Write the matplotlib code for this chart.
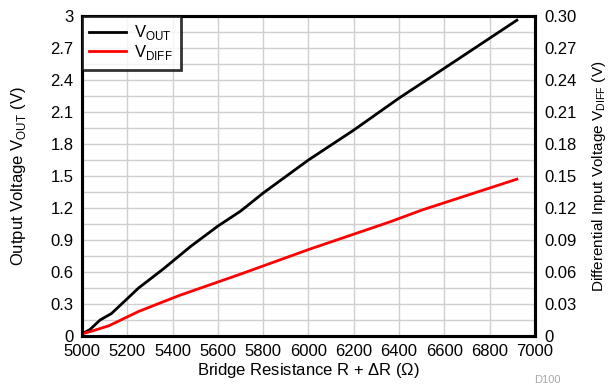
import matplotlib
matplotlib.use('Agg')
import matplotlib.pyplot as plt
import numpy as np

plt.rcParams['font.family'] = ['Liberation Sans', 'DejaVu Sans']
plt.rcParams['mathtext.fontset'] = 'custom'
plt.rcParams['mathtext.rm'] = 'Liberation Sans'

# bridge resistance (ohm) and output voltage (V)
r_out = [5000, 5035, 5080, 5130, 5200, 5250, 5360, 5480, 5600, 5700, 5800,
         6000, 6200, 6400, 6600, 6920]
v_out = [0.02, 0.06, 0.15, 0.21, 0.35, 0.45, 0.63, 0.84, 1.03, 1.17, 1.34,
         1.65, 1.93, 2.23, 2.51, 2.96]

# differential input voltage (V)
r_diff = [5000, 5050, 5120, 5250, 5430, 5700, 6000, 6360, 6500, 6920]
v_diff = [0.002, 0.005, 0.0097, 0.023, 0.038, 0.058, 0.081, 0.107, 0.118, 0.147]

x_ticks = list(range(5000, 7001, 200))
left_ticks = [0, 0.3, 0.6, 0.9, 1.2, 1.5, 1.8, 2.1, 2.4, 2.7, 3]
left_labels = ['0', '0.3', '0.6', '0.9', '1.2', '1.5', '1.8', '2.1', '2.4', '2.7', '3']
right_ticks = [0, 0.03, 0.06, 0.09, 0.12, 0.15, 0.18, 0.21, 0.24, 0.27, 0.30]
right_labels = ['0', '0.03', '0.06', '0.09', '0.12', '0.15', '0.18', '0.21', '0.24', '0.27', '0.30']

fs = 12

fig = plt.figure(figsize=(6.1, 3.91), dpi=100)
ax = fig.add_axes([0.1344, 0.1407, 0.7426, 0.8185])

ax.set_xlim(5000, 7000)
ax.set_ylim(0, 3)
ax.set_xticks(x_ticks)
ax.set_yticks(left_ticks)
ax.set_yticklabels(left_labels)
ax.set_yticks(np.arange(0.15, 3, 0.3), minor=True)
ax.grid(True, which='both', axis='y', color='#cfcfcf', lw=1)
ax.grid(True, which='major', axis='x', color='#cfcfcf', lw=1)
ax.set_axisbelow(True)
ax.tick_params(axis='both', which='both', length=0, labelsize=fs)
ax.tick_params(axis='x', pad=6)
ax.tick_params(axis='y', pad=6)
for s in ax.spines.values():
    s.set_linewidth(2.2)

l1, = ax.plot(r_out, v_out, color='black', lw=2, label=r'V$_{\mathrm{OUT}}$')
ax.set_xlabel(r'Bridge Resistance R + $\Delta$R ($\Omega$)', fontsize=fs, labelpad=1)
ax.set_ylabel(r'Output Voltage V$_{\mathrm{OUT}}$ (V)', fontsize=fs, labelpad=16)

ax2 = ax.twinx()
ax2.set_ylim(0, 0.3)
ax2.set_yticks(right_ticks)
ax2.set_yticklabels(right_labels)
ax2.tick_params(axis='y', length=0, labelsize=fs, pad=7)
for s in ax2.spines.values():
    s.set_linewidth(2.2)
l2, = ax2.plot(r_diff, v_diff, color='red', lw=2, label=r'V$_{\mathrm{DIFF}}$')
ax2.set_ylabel(r'Differential Input Voltage V$_{\mathrm{DIFF}}$ (V)', fontsize=11,
               rotation=90, labelpad=9)

leg = ax2.legend(handles=[l1, l2], loc='upper left', fontsize=fs, frameon=True,
                 fancybox=False, borderaxespad=0, handlelength=2.2,
                 borderpad=0.45, labelspacing=0.05, handletextpad=0.5)
leg.get_frame().set_edgecolor('black')
leg.get_frame().set_linewidth(2)

fig.text(0.875, 0.02, 'D100', fontsize=8, color='#aaaaaa')

fig.savefig('out.png', dpi=100)
